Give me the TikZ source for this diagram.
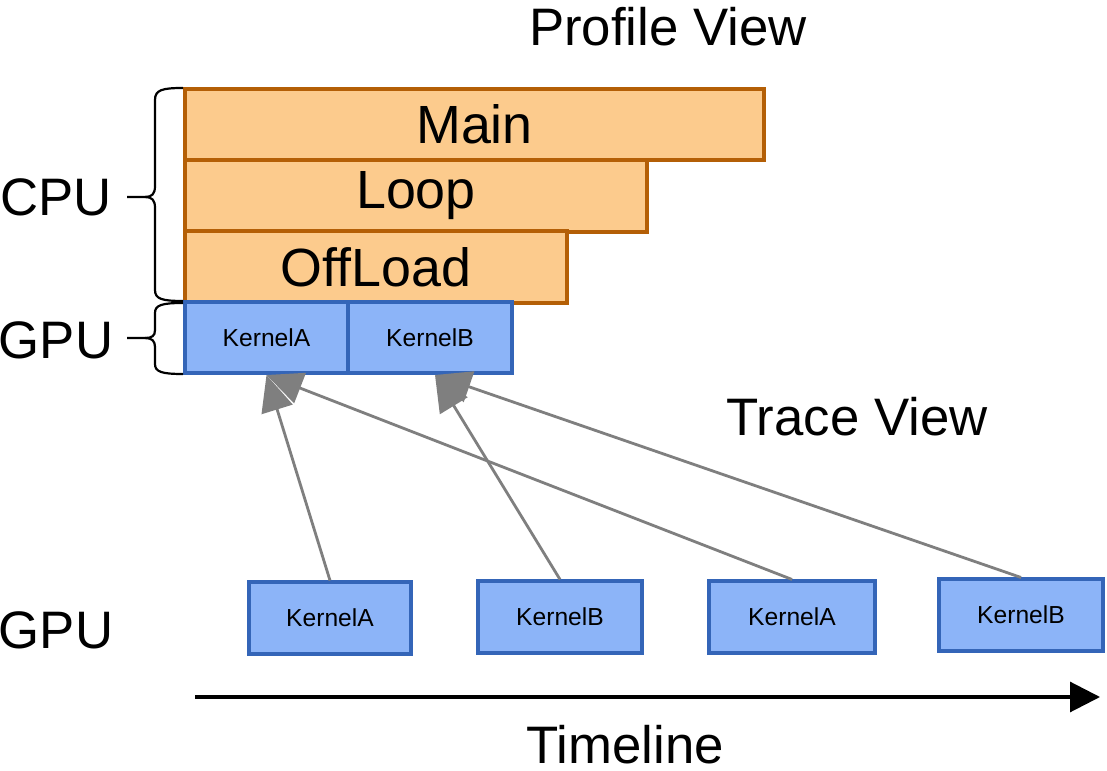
\documentclass[tikz,border=0pt]{standalone}
\usepackage{fontspec}
\setmainfont{Liberation Sans}
\usetikzlibrary{arrows.meta}
\definecolor{orfill}{HTML}{FCCB8D}
\definecolor{ordraw}{HTML}{B45F06}
\definecolor{blfill}{HTML}{8CB4F8}
\definecolor{bldraw}{HTML}{3465B8}
\definecolor{arrgray}{HTML}{7F7F7F}
\begin{document}
\begin{tikzpicture}[x=0.01cm, y=-0.01cm,
  box/.style={draw, inner sep=0pt, line width=0.04cm},
  orng/.style={box, fill=orfill, draw=ordraw, minimum height=0.71cm,
    font=\fontsize{15.3}{18}\selectfont},
  blu/.style={box, fill=blfill, draw=bldraw, minimum height=0.71cm,
    font=\fontsize{7}{9}\selectfont},
  big/.style={font=\fontsize{15}{18}\selectfont},
  arr/.style={-{Triangle[length=0.36cm, width=0.32cm]}, line width=0.028cm, arrgray},
  brc/.style={line width=0.022cm}
]
\useasboundingbox (0,0) rectangle (1107,771);
% profile view
\node[big] (ptitle) at (668,27) {Profile View};
\node[orng, minimum width=5.79cm] (main) at (474.5,124.5) {Main};
\node[orng, minimum width=4.62cm] (loop) at (416,196) {Loop};
\node[orng, minimum width=3.82cm] (offl) at (376,267) {OffLoad};
\node[blu, minimum width=1.63cm] (pka) at (266.5,337.5) {KernelA};
\node[blu, minimum width=1.64cm] (pkb) at (430,337.5) {KernelB};
% braces
\draw[brc] (183,88) .. controls (162,88) and (155,90) .. (155,100) -- (155,186)
  .. controls (155,194) and (152,197) .. (145,197) -- (127,197);
\draw[brc] (145,197) .. controls (152,197) and (155,200) .. (155,208) -- (155,290)
  .. controls (155,299) and (162,301) .. (183,301);
\draw[brc] (183,303) .. controls (162,303) and (155,305) .. (155,313) -- (155,330)
  .. controls (155,336) and (152,338) .. (145,338) -- (127,338);
\draw[brc] (145,338) .. controls (152,338) and (155,341) .. (155,347) -- (155,364)
  .. controls (155,372) and (162,374) .. (183,374);
\node[big] (cpu) at (56,197) {CPU};
\node[big] (gpu1) at (56,340) {GPU};
% trace view
\node[big] (ttitle) at (857,417) {Trace View};
\node[big] (gpu2) at (56,630) {GPU};
\node[blu, minimum width=1.62cm] (ka1) at (330,618) {KernelA};
\node[blu, minimum width=1.64cm] (kb1) at (560,617) {KernelB};
\node[blu, minimum width=1.66cm] (ka2) at (792,617) {KernelA};
\node[blu, minimum width=1.63cm] (kb2) at (1021,615) {KernelB};
\draw[arr] (ka1.north) -- (pka.south);
\draw[arr] (ka2.north) -- (pka.south);
\draw[arr] (kb1.north) -- ([xshift=0.05cm]pkb.south);
\draw[arr] (kb2.north) -- ([xshift=0.05cm]pkb.south);
% timeline
\coordinate (t0) at (195,697);
\coordinate (t1) at (1100,697);
\draw[-{Triangle[length=0.3cm, width=0.3cm]}, line width=0.03cm] (t0) -- (t1);
\node[big] (tl) at (625,745) {Timeline};
\end{tikzpicture}
\end{document}
